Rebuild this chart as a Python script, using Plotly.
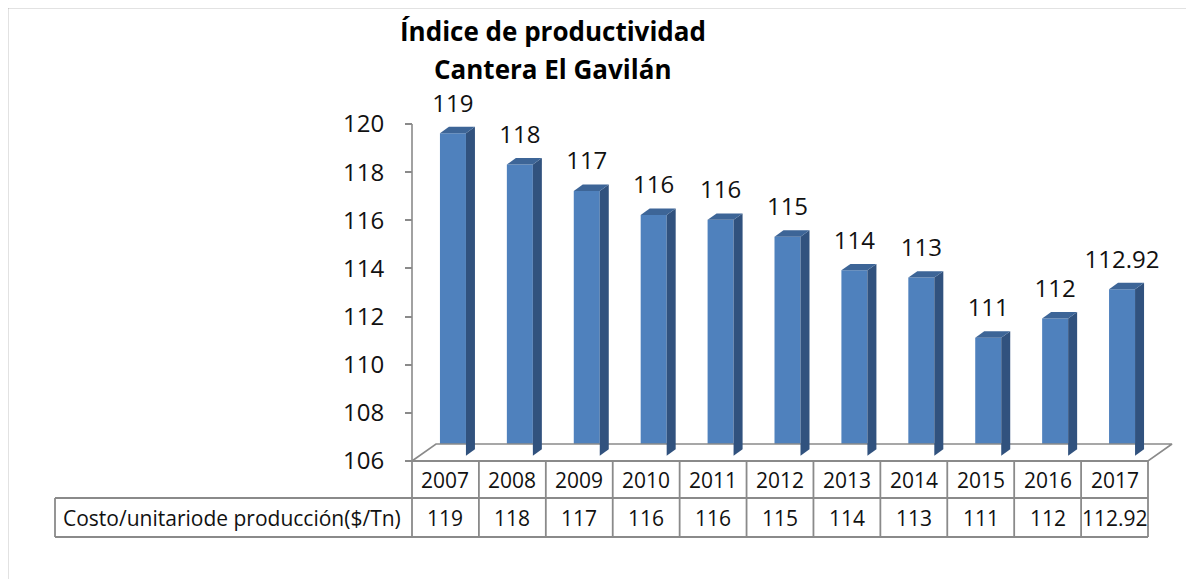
import plotly.graph_objects as go

# ---------------- data ----------------
years = ["2007", "2008", "2009", "2010", "2011", "2012", "2013", "2014", "2015", "2016", "2017"]
values = [119.4, 118.1, 117.0, 116.0, 115.8, 115.1, 113.7, 113.4, 110.9, 111.7, 112.92]
labels = ["119", "118", "117", "116", "116", "115", "114", "113", "111", "112", "112.92"]
series_name = "Costo/unitariode producción($/Tn)"
title_lines = ["Índice de productividad", "Cantera El Gavilán"]
y_ticks = [106, 108, 110, 112, 114, 116, 118, 120]

# ---------------- layout geometry (pixels, page coordinates) ----------------
W, H = 1194, 579
OFF = 8                                # page margin around the figure
FONT = "Open Sans"
GRAY = "#8a8a8a"
FRONT, SIDE, TOP = "#4f81bd", "#31527e", "#3d6597"

left_px, right_px = 412, 1148          # floor front edge / table columns
top_px, base_px = 124, 461             # value axis top tick / bottom tick
y_min, y_max = y_ticks[0], y_ticks[-1]
n = len(years)
PX_CAT = (right_px - left_px) / n
PX_VAL = (base_px - top_px) / (y_max - y_min)
X0 = -0.5 - (left_px - OFF) / PX_CAT
X1 = X0 + W / PX_CAT
Y_TOP = y_max + (top_px - OFF) / PX_VAL
Y_BOT = Y_TOP - H / PX_VAL


def xpx(px):
    return X0 + (px - OFF) / PX_CAT


def ypx(py):
    return Y_TOP - (py - OFF) / PX_VAL


# depth projection
floor_dx, floor_dy = 24 / PX_CAT, 17 / PX_VAL
front_dx, front_dy = 7.5 / PX_CAT, 5.3 / PX_VAL
bar_dx, bar_dy = 9 / PX_CAT, 6.4 / PX_VAL
half_w = 13 / PX_CAT
label_dy = 27.5 / PX_VAL

fig = go.Figure()

# floor
fx = [-0.5, n - 0.5, n - 0.5 + floor_dx, -0.5 + floor_dx, -0.5]
fy = [y_min, y_min, y_min + floor_dy, y_min + floor_dy, y_min]
fig.add_trace(go.Scatter(x=fx, y=fy, mode="lines", fill="toself", fillcolor="white",
                         line=dict(color=GRAY, width=1.6), hoverinfo="skip", showlegend=False))

# bar side & top faces
for i, v in enumerate(values):
    xl = i + front_dx - half_w
    xr = i + front_dx + half_w
    b = y_min + front_dy
    t = v + front_dy
    fig.add_trace(go.Scatter(
        x=[xr, xr, xr + bar_dx, xr + bar_dx, xr], y=[b, t, t + bar_dy, b + bar_dy, b],
        mode="lines", fill="toself", fillcolor=SIDE, line=dict(width=0, color=SIDE),
        hoverinfo="skip", showlegend=False))
    fig.add_trace(go.Scatter(
        x=[xl, xr, xr + bar_dx, xl + bar_dx, xl], y=[t, t, t + bar_dy, t + bar_dy, t],
        mode="lines", fill="toself", fillcolor=TOP, line=dict(width=0, color=TOP),
        hoverinfo="skip", showlegend=False))

# bar front faces
fig.add_trace(go.Bar(
    x=[i + front_dx for i in range(n)], y=[v - y_min for v in values],
    base=y_min + front_dy, width=2 * half_w, marker=dict(color=FRONT, line=dict(width=0)),
    showlegend=False, name=series_name))

# data labels
fig.add_trace(go.Scatter(
    x=[i + front_dx for i in range(n)], y=[v + front_dy + label_dy for v in values],
    mode="text", text=labels, textposition="middle center",
    textfont=dict(family=FONT, size=24, color="#111"), cliponaxis=False,
    hoverinfo="skip", showlegend=False))

shapes = []
# outer chart border
shapes.append(dict(type="rect", xref="x", yref="y", x0=xpx(7), x1=xpx(1191), y0=ypx(7), y1=ypx(620),
                   line=dict(color=GRAY, width=2.5)))
# value axis line
shapes.append(dict(type="line", xref="x", yref="y", x0=-0.5, x1=-0.5, y0=y_min, y1=y_max,
                   line=dict(color=GRAY, width=1.6)))

# data table
row1_top, row1_bot, row2_bot = base_px, 498, 537
label_left = xpx(55)
line = dict(color=GRAY, width=1.8)
shapes.append(dict(type="line", xref="x", yref="y", x0=-0.5, x1=n - 0.5,
                   y0=ypx(row1_top), y1=ypx(row1_top), line=line))
shapes.append(dict(type="line", xref="x", yref="y", x0=label_left, x1=n - 0.5,
                   y0=ypx(row1_bot), y1=ypx(row1_bot), line=line))
shapes.append(dict(type="line", xref="x", yref="y", x0=label_left, x1=n - 0.5,
                   y0=ypx(row2_bot), y1=ypx(row2_bot), line=line))
shapes.append(dict(type="line", xref="x", yref="y", x0=label_left, x1=label_left,
                   y0=ypx(row1_bot), y1=ypx(row2_bot), line=line))
for k in range(n + 1):
    shapes.append(dict(type="line", xref="x", yref="y", x0=k - 0.5, x1=k - 0.5,
                       y0=ypx(row1_top), y1=ypx(row2_bot), line=line))

annotations = []
tfont = dict(family=FONT, size=21, color="#111")
for i in range(n):
    annotations.append(dict(x=i, y=ypx((row1_top + row1_bot) / 2), xref="x", yref="y",
                            text=years[i], showarrow=False, font=tfont))
    annotations.append(dict(x=i, y=ypx((row1_bot + row2_bot) / 2), xref="x", yref="y",
                            text=labels[i], showarrow=False, font=tfont))
annotations.append(dict(x=xpx(61), y=ypx((row1_bot + row2_bot) / 2), xref="x", yref="y",
                        text=series_name, xanchor="left", showarrow=False, font=tfont))

# title
for txt, py in zip(title_lines, [31, 69]):
    annotations.append(dict(x=xpx(553), y=ypx(py), xref="x", yref="y", text="<b>" + txt + "</b>",
                            showarrow=False, font=dict(family=FONT, size=26, color="#000")))

fig.update_layout(
    width=W, height=H, margin=dict(l=0, r=0, t=0, b=0, pad=0), autosize=False,
    paper_bgcolor="white", plot_bgcolor="rgba(0,0,0,0)",
    showlegend=False, shapes=shapes, annotations=annotations,
    xaxis=dict(domain=[0, 1], range=[X0, X1], visible=False, fixedrange=True),
    yaxis=dict(domain=[0, 1], range=[Y_BOT, Y_TOP], anchor="free", position=(left_px - OFF) / W,
               side="left", showline=False, ticks="outside", ticklen=7, tickcolor=GRAY,
               tickwidth=1.6, tickvals=y_ticks, ticktext=[str(t) for t in y_ticks],
               showgrid=False, zeroline=False, ticklabelstandoff=16, automargin=False,
               tickfont=dict(family=FONT, size=24, color="#111"), fixedrange=True),
)

fig.write_html("out.html")
